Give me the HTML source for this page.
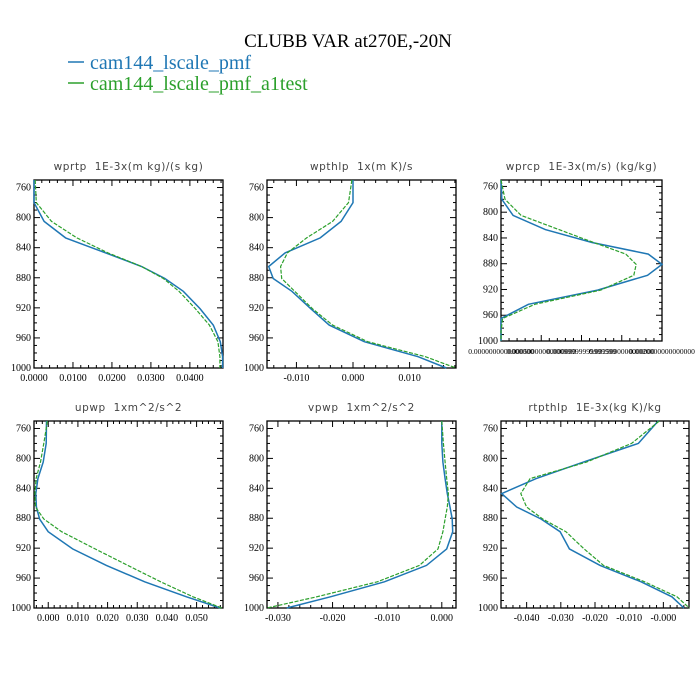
<!DOCTYPE html>
<html><head><meta charset="utf-8"><style>
html,body{margin:0;padding:0;background:#fff;}
svg{display:block;}
.tl{font-family:"Liberation Serif",serif;font-size:10px;fill:#000;}
.pt{font-family:"DejaVu Sans","Liberation Sans",sans-serif;font-size:10.5px;fill:#444;white-space:pre;letter-spacing:0.6px;}
</style></head><body>
<svg id="chart" width="700" height="700" viewBox="0 0 700 700" xmlns="http://www.w3.org/2000/svg">
<text x="348" y="47" text-anchor="middle" font-family="Liberation Serif,serif" font-size="19">CLUBB VAR at270E,-20N</text>
<g>
<line x1="68" y1="62" x2="84" y2="62" stroke="#1f77b4" stroke-width="1.5"/>
<text x="90" y="69" font-family="Liberation Serif,serif" font-size="20" fill="#1f77b4">cam144_lscale_pmf</text>
<line x1="68" y1="83" x2="84" y2="83" stroke="#2ca02c" stroke-width="1.5"/>
<text x="90" y="90" font-family="Liberation Serif,serif" font-size="20" fill="#2ca02c">cam144_lscale_pmf_a1test</text>
</g>
</svg>
<script>
const levels=[750,780,805,827,847,865,881,898,921,943,965,985,1000];
const yTicks=[760,800,840,880,920,960,1000];
const wprtpPmf=[0,0,0.0026,0.0081,0.0184,0.0276,0.0336,0.0383,0.0426,0.046,0.0478,0.0484,0.0484];
const wprtpA1=[0.0003,0.0006,0.0045,0.011,0.019,0.0276,0.0332,0.0372,0.0414,0.045,0.0472,0.0477,0.0477];
const wpthlpPmf=[0,0,-0.0021,-0.0058,-0.012,-0.0149,-0.0141,-0.0108,-0.0075,-0.0042,0.002,0.0115,0.0165];
const wpthlpA1=[-0.0002,-0.0008,-0.0036,-0.0082,-0.0116,-0.0128,-0.0126,-0.0103,-0.0072,-0.0036,0.0026,0.0128,0.0182];
const wprcpPmf=[0,0.00001,0.00015,0.00055,0.00113,0.00183,0.002,0.00182,0.0012,0.00034,0,0,0];
const wprcpA1=[0,0.00005,0.00025,0.00072,0.00115,0.00155,0.00168,0.00165,0.00124,0.00042,0.00002,0,0];
const upwpPmf=[-0.0006,-0.0007,-0.0017,-0.0035,-0.0042,-0.004,-0.0029,0,0.0082,0.0196,0.0325,0.0466,0.058];
const upwpA1=[-0.0003,-0.0015,-0.0026,-0.0041,-0.0045,-0.0043,-0.0015,0.0045,0.0158,0.0268,0.0379,0.0488,0.0585];
const vpwpPmf=[0,0,0.0002,0.0006,0.001,0.0015,0.0019,0.002,0.0009,-0.0028,-0.0105,-0.0204,-0.0284];
const vpwpA1=[0,0.0003,0.0006,0.0009,0.0012,0.001,0.0006,0.0002,-0.0007,-0.0041,-0.0118,-0.0229,-0.032];
const rtpthlpPmf=[-0.0015,-0.0073,-0.0234,-0.0372,-0.0473,-0.0429,-0.0358,-0.0302,-0.0275,-0.0185,-0.0065,0.0025,0.006];
const rtpthlpA1=[-0.0012,-0.0093,-0.0225,-0.039,-0.0417,-0.04,-0.0353,-0.0285,-0.0232,-0.0175,-0.0055,0.004,0.0076];
const ticks1=[0,0.01,0.02,0.03,0.04];
const tickLabels1=["0.0000","0.0100","0.0200","0.0300","0.0400"];
const ticks2=[-0.01,0,0.01];
const tickLabels2=["-0.010","0.000","0.010"];
const ticks3=[0,0.0005,0.001,0.0015,0.002];
const tickLabels3=["0.0000000000000000","0.00050000000000000","0.00099999999999999","0.0015000000000000","0.0020000000000000"];
const ticks4=[0,0.01,0.02,0.03,0.04,0.05];
const tickLabels4=["0.000","0.010","0.020","0.030","0.040","0.050"];
const ticks5=[-0.03,-0.02,-0.01,0];
const tickLabels5=["-0.030","-0.020","-0.010","0.000"];
const ticks6=[-0.04,-0.03,-0.02,-0.01,0];
const tickLabels6=["-0.040","-0.030","-0.020","-0.010","-0.000"];

const NS="http://www.w3.org/2000/svg";
const svg=document.getElementById('chart');
function mk(tag,attrs,parent){const e=document.createElementNS(NS,tag);for(const k in attrs)e.setAttribute(k,attrs[k]);parent.appendChild(e);return e;}

function panel(cfg){
  const g=mk('g',{},svg);
  
  
  const L=cfg.x0,R=cfg.x1,T=cfg.y0,B=cfg.y1;
  const sx=v=>L+(v-cfg.xmin)/(cfg.xmax-cfg.xmin)*(R-L);
  const sy=p=>T+(p-750)/(1000-750)*(B-T);
  const t=mk('text',{x:(L+R)/2,y:T-10,'text-anchor':'middle',class:'pt'},g);
  t.textContent=cfg.title;
  
  
  const fr=mk('rect',{x:L,y:T,width:R-L,height:B-T,fill:'none',stroke:'#000','stroke-width':1.3},g);
  
  
  for(let p=760;p<=1000;p+=10){
    const major=(p-760)%40===0, len=major?6:3;
    const y=sy(p);
    mk('line',{x1:L,y1:y,x2:L+len,y2:y,stroke:'#000','stroke-width':1},g);
    mk('line',{x1:R,y1:y,x2:R-len,y2:y,stroke:'#000','stroke-width':1},g);
  }
  yTicks.forEach(p=>{
    const tx=mk('text',{x:L-3,y:sy(p)+3,'text-anchor':'end',class:'tl'},g);
    tx.textContent=String(p);
    
    
  });
  const step=cfg.ticks[1]-cfg.ticks[0], minor=step/5;
  const start=Math.ceil((cfg.xmin-1e-12)/minor);
  for(let i=start;i*minor<=cfg.xmax+1e-12;i++){
    const v=i*minor, x=sx(v);
    const major=Math.abs(Math.round(v/step)*step-v)<minor*0.01, len=major?6:3;
    mk('line',{x1:x,y1:B,x2:x,y2:B-len,stroke:'#000','stroke-width':1},g);
    mk('line',{x1:x,y1:T,x2:x,y2:T+len,stroke:'#000','stroke-width':1},g);
  }
  cfg.ticks.forEach((v,i)=>{
    const tx=mk('text',{x:sx(v),y:B+13,'text-anchor':'middle',class:'tl'},g);
    if(cfg.small)tx.setAttribute('style','font-size:7.5px');
    tx.textContent=cfg.labels[i];
    
    
  });
  const series=[[cfg.pmf,'#1f77b4','','pmf',1.5],[cfg.a1,'#2ca02c','4,1.5','a1test',1.2]];
  series.forEach(s=>{
    const d=s[0].map((v,i)=>(i?'L':'M')+sx(v).toFixed(1)+' '+sy(levels[i]).toFixed(1)).join(' ');
    const pth=mk('path',{d:d,fill:'none',stroke:s[1],'stroke-width':s[4]},g);
    if(s[2])pth.setAttribute('stroke-dasharray',s[2]);
    
    
  });
}
panel({name:'wprtp',title:'wprtp  1E-3x(m kg)/(s kg)',x0:34,x1:223,y0:180,y1:368,xmin:0,xmax:0.0485,ticks:ticks1,labels:tickLabels1,pmf:wprtpPmf,a1:wprtpA1});
panel({name:'wpthlp',title:'wpthlp  1x(m K)/s',x0:267,x1:456,y0:180,y1:368,xmin:-0.0152,xmax:0.0182,ticks:ticks2,labels:tickLabels2,pmf:wpthlpPmf,a1:wpthlpA1});
panel({name:'wprcp',title:'wprcp  1E-3x(m/s) (kg/kg)',x0:501,x1:662,y0:180,y1:341,xmin:0,xmax:0.002,ticks:ticks3,labels:tickLabels3,pmf:wprcpPmf,a1:wprcpA1,small:true});
panel({name:'upwp',title:'upwp  1xm^2/s^2',x0:34,x1:223,y0:421,y1:608,xmin:-0.0048,xmax:0.0589,ticks:ticks4,labels:tickLabels4,pmf:upwpPmf,a1:upwpA1});
panel({name:'vpwp',title:'vpwp  1xm^2/s^2',x0:267,x1:456,y0:421,y1:608,xmin:-0.032,xmax:0.0026,ticks:ticks5,labels:tickLabels5,pmf:vpwpPmf,a1:vpwpA1});
panel({name:'rtpthlp',title:'rtpthlp  1E-3x(kg K)/kg',x0:501,x1:689,y0:421,y1:608,xmin:-0.0475,xmax:0.0075,ticks:ticks6,labels:tickLabels6,pmf:rtpthlpPmf,a1:rtpthlpA1});
</script>
</body></html>
